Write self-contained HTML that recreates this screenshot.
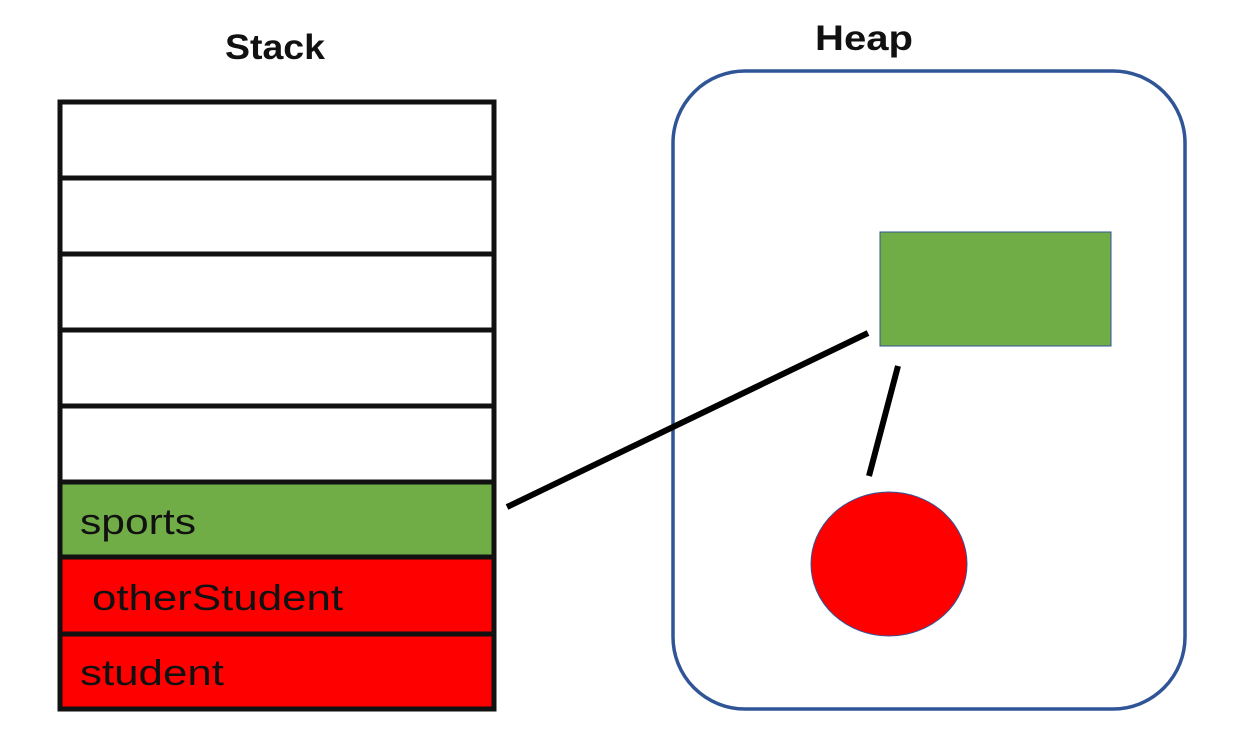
<!DOCTYPE html>
<html><head><meta charset="utf-8"><style>
html,body{margin:0;padding:0;background:#fff;}
svg{display:block;}
text{font-family:"Liberation Sans",sans-serif;}
</style></head><body>
<svg width="1240" height="744" viewBox="0 0 1240 744" xmlns="http://www.w3.org/2000/svg">
<rect width="1240" height="744" fill="#fff"/>
<text x="225" y="59" font-size="35" font-weight="bold" textLength="100" lengthAdjust="spacingAndGlyphs" fill="#111">Stack</text>
<text x="815" y="50" font-size="35" font-weight="bold" textLength="98" lengthAdjust="spacingAndGlyphs" fill="#111">Heap</text>
<rect x="60" y="482" width="434" height="75" fill="#70ad47"/>
<rect x="60" y="557" width="434" height="152" fill="#ff0000"/>
<rect x="60" y="102" width="434" height="607" fill="none" stroke="#111" stroke-width="5"/>
<g stroke="#111" stroke-width="5">
<line x1="60" y1="178" x2="494" y2="178"/>
<line x1="60" y1="254" x2="494" y2="254"/>
<line x1="60" y1="330" x2="494" y2="330"/>
<line x1="60" y1="406" x2="494" y2="406"/>
<line x1="60" y1="482" x2="494" y2="482"/>
<line x1="60" y1="557" x2="494" y2="557"/>
<line x1="60" y1="634" x2="494" y2="634"/>
</g>
<text x="80" y="534" font-size="36" textLength="116" lengthAdjust="spacingAndGlyphs" fill="#111">sports</text>
<text x="92" y="610" font-size="36" textLength="251" lengthAdjust="spacingAndGlyphs" fill="#111">otherStudent</text>
<text x="80" y="685" font-size="36" textLength="144" lengthAdjust="spacingAndGlyphs" fill="#111">student</text>
<rect x="673" y="71" width="512" height="638" rx="72" ry="72" fill="none" stroke="#2f5597" stroke-width="3.5"/>
<rect x="880" y="232" width="231" height="114" fill="#70ad47" stroke="#2f5597" stroke-width="1"/>
<ellipse cx="889" cy="564" rx="78" ry="72" fill="#ff0000" stroke="#2f5597" stroke-width="1"/>
<g stroke="#000" stroke-width="6">
<line x1="507" y1="507" x2="868" y2="333"/>
<line x1="898" y1="366" x2="869" y2="476"/>
</g>
</svg>
</body></html>
